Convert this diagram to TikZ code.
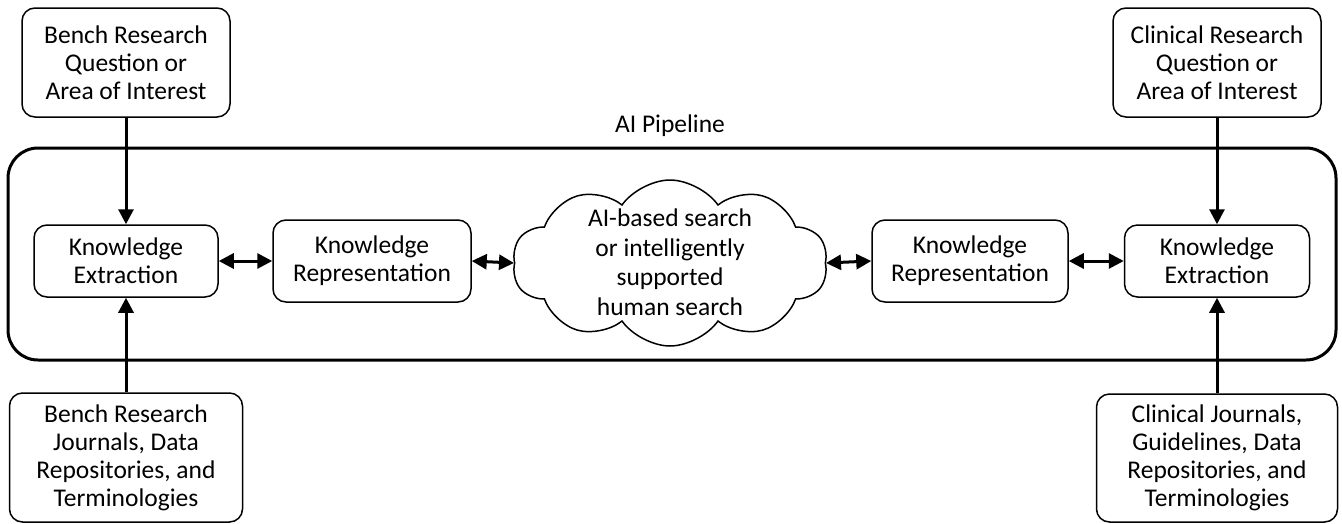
\documentclass[tikz,border=0pt]{standalone}
\usepackage{fontspec}
\setmainfont{Carlito}
\usetikzlibrary{shapes.symbols,arrows.meta}
\tikzset{
  txt/.style={font=\fontsize{25.5}{28}\selectfont, align=center, inner sep=0pt},
  rbox/.style={txt, draw, line width=1.5pt, rounded corners=13pt},
  tip/.tip={Triangle[length=15pt,width=15pt]},
  link/.style={line width=3pt, -tip},
  dlink/.style={line width=3pt, tip-tip},
}
\begin{document}
\begin{tikzpicture}[x=1pt,y=-1pt]
  \useasboundingbox (0,0) rectangle (1342,523);

  % pipeline frame and its title
  \draw[line width=3pt, rounded corners=30pt] (8,148) rectangle (1336,360);
  \node[txt] (title) at (670,126) {AI Pipeline};

  % sources on the bench side
  \node[rbox, minimum width=208pt, minimum height=109pt] (bq) at (126,62.5)
    {Bench Research\\Question or\\Area of Interest};
  \node[rbox, minimum width=233pt, minimum height=129pt] (bj) at (126,457.5)
    {Bench Research\\Journals, Data\\Repositories, and\\Terminologies};

  % sources on the clinical side
  \node[rbox, minimum width=208pt, minimum height=109pt] (cq) at (1217,62.5)
    {Clinical Research\\Question or\\Area of Interest};
  \node[rbox, minimum width=241pt, minimum height=128pt] (cj) at (1217,458)
    {Clinical Journals,\\Guidelines, Data\\Repositories, and\\Terminologies};

  % pipeline stages
  \node[rbox, minimum width=184pt, minimum height=72pt] (kel) at (126,261)
    {Knowledge\\Extraction};
  \node[rbox, minimum width=198pt, minimum height=82pt] (krl) at (372,261)
    {Knowledge\\Representation};
  \node[draw, line width=1.5pt, cloud, cloud puffs=10, cloud puff arc=110,
        aspect=1.85, inner sep=0pt,
        minimum width=315pt, minimum height=166pt] (search) at (670,263) {};
  \node[txt, font=\fontsize{25.5}{29.5}\selectfont] (searchtxt) at (670,262)
    {AI-based search\\or intelligently\\supported\\human search};
  \node[rbox, minimum width=196pt, minimum height=82pt] (krr) at (970,261)
    {Knowledge\\Representation};
  \node[rbox, minimum width=185pt, minimum height=72pt] (ker) at (1217,261)
    {Knowledge\\Extraction};

  % connectors
  \draw[link] (bq.south) -- (kel.north);
  \draw[link] (bj.north) -- (kel.south);
  \draw[link] (cq.south) -- (ker.north);
  \draw[link] (cj.north) -- (ker.south);
  \draw[dlink] (kel.east) -- (krl.west);
  \draw[dlink] (krl.east) -- (search.west);
  \draw[dlink] (search.east) -- (krr.west);
  \draw[dlink] (krr.east) -- (ker.west);
\end{tikzpicture}
\end{document}
